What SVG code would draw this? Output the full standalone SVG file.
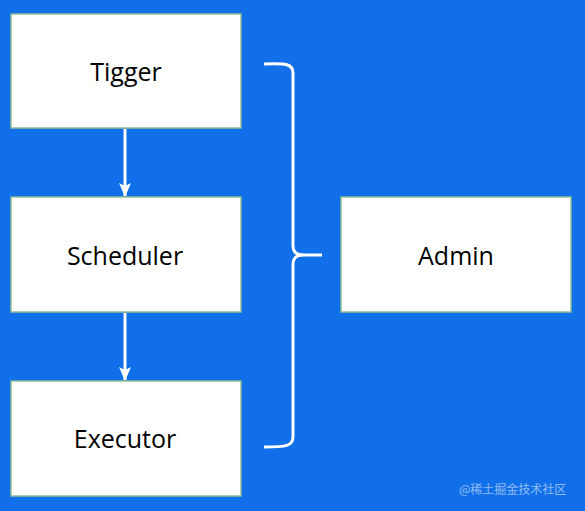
<svg xmlns="http://www.w3.org/2000/svg" width="585" height="511" viewBox="0 0 585 511">
<style>
.box{fill:#fff;stroke:#8fbf96;stroke-width:1.5}
.lbl{font-family:"Open Sans","Noto Sans","DejaVu Sans",sans-serif;font-size:25px;fill:#000;text-anchor:middle}
.conn{fill:none;stroke:#fff;stroke-width:3}
.wm{font-family:"Noto Sans CJK SC","Noto Sans",sans-serif;font-size:12px;fill:#fff;fill-opacity:0.55}
</style>
<defs>
<marker id="ah" viewBox="0 0 14 12" refX="13" refY="6" markerWidth="14" markerHeight="12" markerUnits="userSpaceOnUse" orient="auto">
<path d="M0,0 L14,6 L0,12 L3,6 Z" fill="#fff"/>
</marker>
</defs>
<rect width="585" height="511" fill="#116fe9"/>
<g id="connectors">
<line class="conn" x1="125" y1="129" x2="125" y2="196" marker-end="url(#ah)"/>
<line class="conn" x1="125" y1="313" x2="125" y2="380" marker-end="url(#ah)"/>
<path class="conn" d="M264,64 C286,63 293,64 293,73 L293,246 C293,252 296,255 304,255 L322,255 M304,255 C296,255 293,258 293,264 L293,437 C293,446 286,447 264,447"/>
</g>
<g id="tigger">
<rect class="box" x="11" y="14" width="230" height="114"/>
<text class="lbl" x="126" y="81">Tigger</text>
</g>
<g id="scheduler">
<rect class="box" x="11" y="197" width="230" height="115"/>
<text class="lbl" x="125" y="265">Scheduler</text>
</g>
<g id="executor">
<rect class="box" x="11" y="381" width="230" height="115"/>
<text class="lbl" x="125" y="448">Executor</text>
</g>
<g id="admin">
<rect class="box" x="341" y="197" width="230" height="115"/>
<text class="lbl" x="456" y="265">Admin</text>
</g>
<text class="wm" x="459" y="494">@稀土掘金技术社区</text>
</svg>
